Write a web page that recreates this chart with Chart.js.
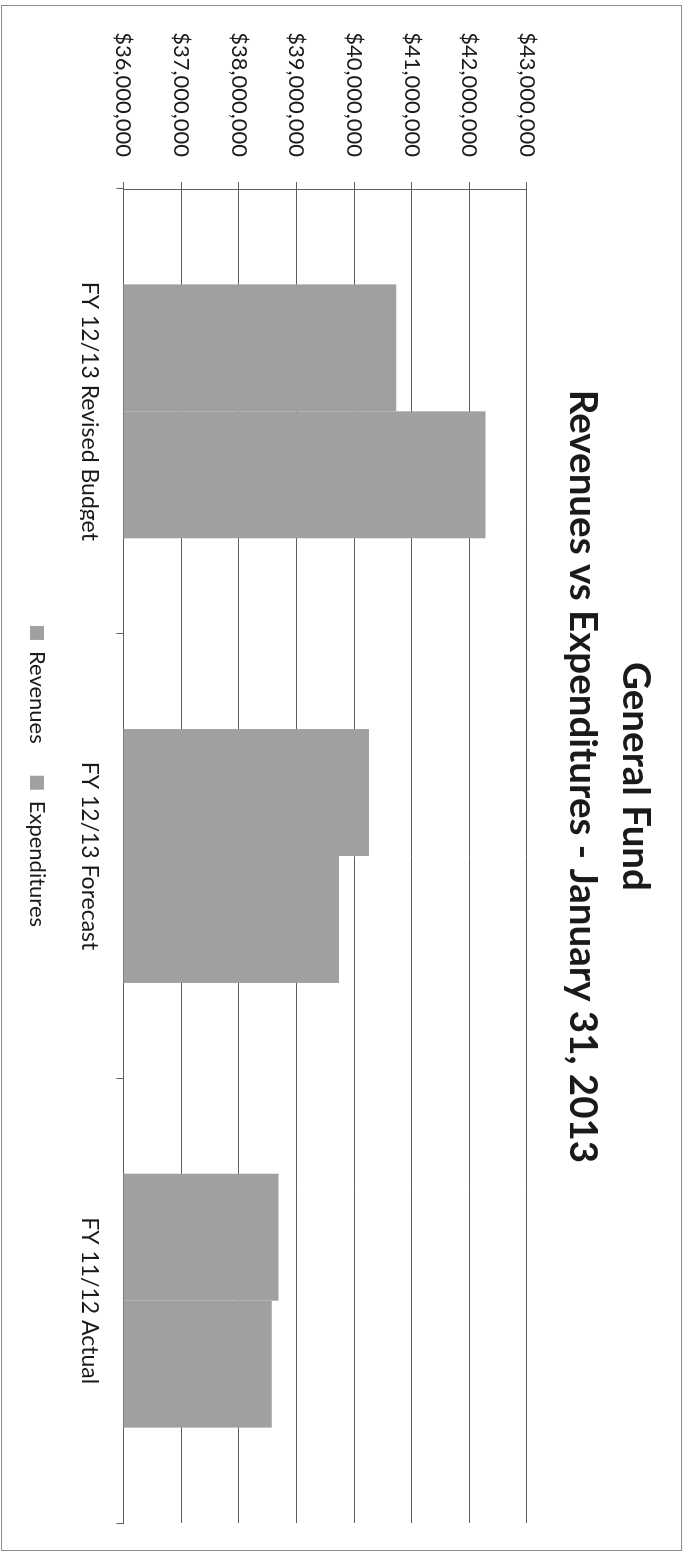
<!DOCTYPE html>
<html>
<head>
<meta charset="utf-8">
<title>General Fund - Revenues vs Expenditures</title>
<script src="https://cdn.jsdelivr.net/npm/chart.js@4.4.1/dist/chart.umd.min.js"></script>
<style>
  html, body { margin: 0; padding: 0; background: #fff; }
  body { width: 689px; height: 1552px; overflow: hidden; position: relative; }
  /* the chart is laid out landscape and turned a quarter clockwise onto the page */
  #frame {
    position: absolute;
    left: 0;
    top: 0;
    width: 1552px;
    height: 689px;
    transform-origin: 0 0;
    transform: translate(689px, 0) rotate(90deg);
  }
</style>
</head>
<body>
<div id="frame"><canvas id="fundChart" width="1552" height="689"></canvas></div>
<script>
const categories = ["FY 12/13 Revised Budget", "FY 12/13 Forecast", "FY 11/12 Actual"];
const revenues = [40730000, 40260000, 38690000];
const expenditures = [42280000, 39740000, 38570000];
const axisTicks = [36000000, 37000000, 38000000, 39000000, 40000000, 41000000, 42000000, 43000000];

const textColor = "#1a1a1a";
const lineColor = "#5e5e5e";
const barFill = "#a0a0a0";

const money = v => "$" + Number(v).toLocaleString("en-US");

// thin frame round the whole chart, like the spreadsheet chart border
const chartBorder = {
  id: "chartBorder",
  afterDraw(chart) {
    const ctx = chart.ctx;
    ctx.save();
    ctx.strokeStyle = "#8c8c8c";
    ctx.lineWidth = 1;
    ctx.strokeRect(5.5, 7.5, 1545, 680);
    ctx.restore();
  }
};

new Chart(document.getElementById("fundChart"), {
  type: "bar",
  data: {
    labels: categories,
    datasets: [
      {
        label: "Revenues",
        data: revenues,
        backgroundColor: barFill,
        borderWidth: 0
      },
      {
        label: "Expenditures",
        data: expenditures,
        backgroundColor: barFill,
        borderWidth: 0
      }
    ]
  },
  options: {
    responsive: false,
    animation: false,
    devicePixelRatio: 1,
    layout: {
      padding: { left: 30, right: 29, top: 7, bottom: 16 }
    },
    datasets: {
      bar: {
        categoryPercentage: 0.571,
        barPercentage: 1.0
      }
    },
    plugins: {
      title: {
        display: true,
        text: ["General Fund", "Revenues vs Expenditures - January 31, 2013"],
        color: textColor,
        font: { family: "Lato", size: 38.5, weight: "bold", lineHeight: 53 / 38.5 },
        padding: { top: 20, bottom: 29 }
      },
      legend: {
        position: "bottom",
        labels: {
          boxWidth: 14,
          boxHeight: 14,
          padding: 32,
          color: textColor,
          font: { family: "Lato", size: 22 }
        }
      },
      tooltip: { enabled: false }
    },
    scales: {
      x: {
        afterFit: scale => { scale.height = 43.5; },
        grid: {
          drawOnChartArea: false,
          tickLength: 7,
          color: lineColor
        },
        border: { color: lineColor },
        ticks: {
          padding: 13,
          color: textColor,
          font: { family: "Lato", size: 23 }
        }
      },
      y: {
        min: axisTicks[0],
        max: axisTicks[axisTicks.length - 1],
        afterFit: scale => { scale.width = 159; },
        afterBuildTicks: scale => {
          scale.ticks = axisTicks.map(v => ({ value: v }));
        },
        grid: {
          color: lineColor,
          tickLength: 7
        },
        border: { color: lineColor },
        ticks: {
          padding: 25,
          color: textColor,
          font: { family: "Lato", size: 22 },
          callback: v => money(v)
        }
      }
    }
  },
  plugins: [chartBorder]
});
</script>
</body>
</html>
